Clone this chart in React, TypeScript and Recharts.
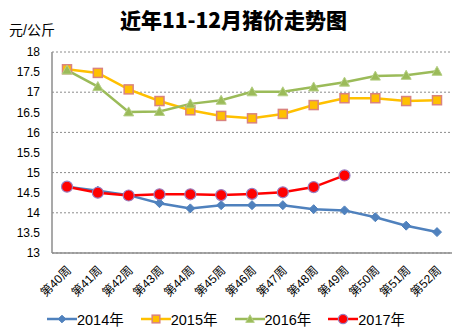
import { LineChart, Line, XAxis, YAxis, CartesianGrid, Legend } from "recharts"

const weeks = ["第40周", "第41周", "第42周", "第43周", "第44周", "第45周", "第46周", "第47周", "第48周", "第49周", "第50周", "第51周", "第52周"]
const p2014 = [14.65, 14.55, 14.44, 14.24, 14.11, 14.19, 14.19, 14.19, 14.09, 14.06, 13.89, 13.68, 13.52]
const p2015 = [17.57, 17.48, 17.07, 16.78, 16.55, 16.41, 16.35, 16.46, 16.68, 16.85, 16.85, 16.78, 16.8]
const p2016 = [17.55, 17.14, 16.51, 16.52, 16.71, 16.8, 17.01, 17.01, 17.13, 17.25, 17.4, 17.42, 17.52]
const p2017 = [14.65, 14.5, 14.43, 14.46, 14.46, 14.44, 14.47, 14.51, 14.64, 14.93]
const yTicks = [13, 13.5, 14, 14.5, 15, 15.5, 16, 16.5, 17, 17.5, 18]

const data = weeks.map((w, i) => ({
  week: w,
  y2014: p2014[i],
  y2015: p2015[i],
  y2016: p2016[i],
  y2017: p2017[i],
}))

const FONT = '"Liberation Sans", Arial, "Noto Sans CJK SC", sans-serif'

// 图例样式
const SERIES = [
  { key: "y2014", name: "2014年", color: "#4F81BD", marker: "diamond" },
  { key: "y2015", name: "2015年", color: "#FFC000", marker: "square" },
  { key: "y2016", name: "2016年", color: "#9BBB59", marker: "triangle" },
  { key: "y2017", name: "2017年", color: "#FF0000", marker: "circle" },
]

function Marker({ cx, cy, kind, size = 1 }: { cx: number; cy: number; kind: string; size?: number }) {
  if (cx == null || cy == null || isNaN(cx) || isNaN(cy)) return null
  if (kind === "diamond") {
    const r = 4.5 * size
    return <path d={`M${cx},${cy - r}L${cx + r},${cy}L${cx},${cy + r}L${cx - r},${cy}Z`} fill="#4F81BD" stroke="#4F81BD" strokeWidth={1} />
  }
  if (kind === "square") {
    const r = 4.5 * size
    return <rect x={cx - r} y={cy - r} width={2 * r} height={2 * r} fill="#FFC000" stroke="#D9837F" strokeWidth={1.5} />
  }
  if (kind === "triangle") {
    const r = 5 * size
    return <path d={`M${cx},${cy - r}L${cx + r},${cy + r * 0.8}L${cx - r},${cy + r * 0.8}Z`} fill="#9BBB59" stroke="#B5CF85" strokeWidth={1} />
  }
  const r = 5.5 * size
  return <circle cx={cx} cy={cy} r={r} fill="#FF0000" stroke="#9A7FC0" strokeWidth={1.2} />
}

const WeekTick = ({ x, y, payload }: any) => (
  <text
    x={0}
    y={0}
    transform={`translate(${x + 5},${y + 10}) rotate(-45)`}
    textAnchor="end"
    fontSize={12}
    fontFamily={FONT}
    fill="#000"
  >
    {payload.value}
  </text>
)

const LegendContent = () => (
  <div style={{ display: "flex", justifyContent: "center", gap: 17, fontFamily: FONT, fontSize: 14.5, color: "#000" }}>
    {SERIES.map((s) => (
      <div key={s.key} style={{ display: "flex", alignItems: "center" }}>
        <svg width={30} height={14}>
          <line x1={0} y1={7} x2={30} y2={7} stroke={s.color} strokeWidth={2.5} />
          <Marker cx={15} cy={7} kind={s.marker} size={0.85} />
        </svg>
        <span>{s.name}</span>
      </div>
    ))}
  </div>
)

export default function App() {
  return (
    <div style={{ position: "absolute", left: 0, top: 0, width: 467, height: 336, background: "#fff" }}>
      <div
        style={{
          position: "absolute",
          left: 0,
          width: 467,
          top: 4,
          textAlign: "center",
          fontFamily: '"Noto Sans CJK SC", sans-serif',
          fontWeight: 900,
          fontSize: 21,
        }}
      >
        近年11-12月猪价走势图
      </div>
      <div style={{ position: "absolute", left: 9, top: 19, fontFamily: FONT, fontSize: 14 }}>元/公斤</div>
      <LineChart width={467} height={336} data={data} margin={{ top: 52, right: 15, left: 0, bottom: 2 }}>
        <CartesianGrid vertical={false} stroke="#8C8C8C" strokeDasharray="2 2" />
        <XAxis
          dataKey="week"
          tick={<WeekTick />}
          tickLine={false}
          axisLine={{ stroke: "#8C8C8C", strokeWidth: 1.5 }}
          interval={0}
          height={55}
          padding={{ left: 15, right: 15 }}
        />
        <YAxis
          domain={[13, 18]}
          ticks={yTicks}
          width={52}
          tickLine={false}
          axisLine={{ stroke: "#8C8C8C", strokeWidth: 1.5 }}
          tick={{ fontSize: 12, fill: "#000", fontFamily: FONT }}
          tickMargin={6}
        />
        <Legend verticalAlign="bottom" height={26} content={<LegendContent />} />
        {SERIES.map((s) => (
          <Line
            key={s.key}
            dataKey={s.key}
            name={s.name}
            stroke={s.color}
            strokeWidth={2.5}
            isAnimationActive={false}
            dot={(p: any) => <Marker key={p.index} cx={p.cx} cy={p.cy} kind={s.marker} />}
            connectNulls={false}
          />
        ))}
      </LineChart>
    </div>
  )
}
